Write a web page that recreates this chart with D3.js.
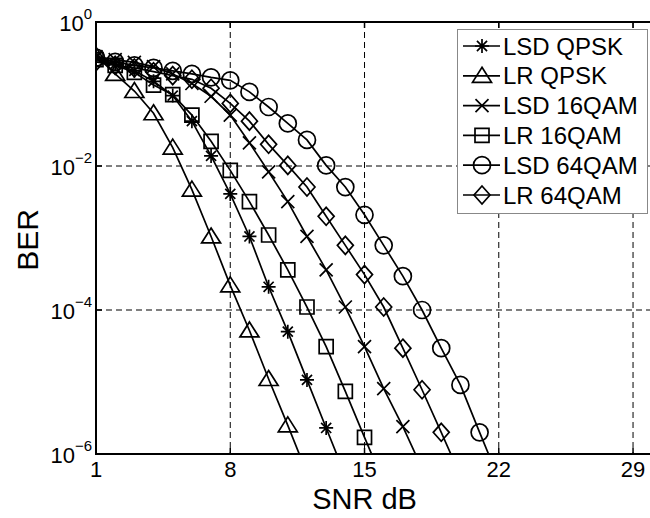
<!DOCTYPE html>
<html>
<head>
<meta charset="utf-8">
<script src="https://cdn.jsdelivr.net/npm/d3@7"></script>
<style>
  body { margin: 0; background: #fff; }
  svg { display: block; font-family: "Liberation Sans", Arial, sans-serif; }
</style>
</head>
<body>
<svg id="chart" width="650" height="518"></svg>
<script>
// BER vs SNR curves, log y axis, MATLAB-style look.

const snr = d3.range(1, 23);

const lsdQpsk = [0.32, 0.26, 0.21, 0.15, 0.095, 0.042, 0.0138, 4.1e-3, 1.05e-3, 2.1e-4, 5.0e-5, 1.07e-5, 2.3e-6, 5e-7];
const lrQpsk = [0.34, 0.19, 0.11, 0.054, 0.018, 4.7e-3, 1.05e-3, 2.2e-4, 5.2e-5, 1.1e-5, 2.5e-6, 5.4e-7];
const lsd16 = [0.33, 0.30, 0.275, 0.24, 0.19, 0.14, 0.093, 0.051, 0.021, 8.3e-3, 3.2e-3, 1.05e-3, 3.6e-4, 1.1e-4, 3.1e-5, 8.1e-6, 2.4e-6, 6.3e-7];
const lr16 = [0.30, 0.25, 0.20, 0.133, 0.098, 0.051, 0.022, 8.7e-3, 3.2e-3, 1.1e-3, 3.6e-4, 1.1e-4, 3.1e-5, 7.4e-6, 1.7e-6, 4e-7];
const lsd64 = [0.32, 0.28, 0.25, 0.23, 0.21, 0.19, 0.17, 0.155, 0.107, 0.066, 0.039, 0.023, 0.0102, 5.1e-3, 2.1e-3, 7.9e-4, 2.95e-4, 1.0e-4, 2.95e-5, 9.1e-6, 2.0e-6, 4.5e-7];
const lr64 = [0.28, 0.25, 0.23, 0.204, 0.18, 0.16, 0.12, 0.074, 0.042, 0.020, 0.0102, 5.1e-3, 2.0e-3, 7.9e-4, 3.1e-4, 1.1e-4, 2.95e-5, 7.8e-6, 2.0e-6, 5e-7];

const seriesNames = ["LSD QPSK", "LR QPSK", "LSD 16QAM", "LR 16QAM", "LSD 64QAM", "LR 64QAM"];
const seriesValues = [lsdQpsk, lrQpsk, lsd16, lr16, lsd64, lr64];
const markers = ["asterisk", "triangle", "x", "square", "circle", "diamond"];

const xTicks = [1, 8, 15, 22, 29];
const yTicks = [1e-6, 1e-4, 1e-2, 1];
const yGrid = [1e-4, 1e-2];

const svg = d3.select("#chart");
const margin = { top: 22, left: 96, bottom: 454 };

const x = d3.scaleLinear().domain([1, 30]).range([margin.left, margin.left + 29 * 19.18]);
const y = d3.scaleLog().domain([1e-6, 1]).range([margin.bottom, margin.top]);

const xRight = 650;

function markerPath(type) {
  const p = d3.path();
  if (type === "asterisk") {
    const r = 7, d = r * 0.72;
    p.moveTo(-r, 0); p.lineTo(r, 0);
    p.moveTo(0, -r); p.lineTo(0, r);
    p.moveTo(-d, -d); p.lineTo(d, d);
    p.moveTo(-d, d); p.lineTo(d, -d);
  } else if (type === "triangle") {
    p.moveTo(0, -8.5); p.lineTo(9.5, 6.5); p.lineTo(-9.5, 6.5); p.closePath();
  } else if (type === "x") {
    const r = 6.5;
    p.moveTo(-r, -r); p.lineTo(r, r);
    p.moveTo(-r, r); p.lineTo(r, -r);
  } else if (type === "square") {
    p.rect(-7, -7, 14, 14);
  } else if (type === "circle") {
    p.moveTo(8.5, 0); p.arc(0, 0, 8.5, 0, 2 * Math.PI);
  } else if (type === "diamond") {
    p.moveTo(0, -9); p.lineTo(8, 0); p.lineTo(0, 9); p.lineTo(-8, 0); p.closePath();
  }
  return p.toString();
}

svg.append("defs").append("clipPath")
  .attr("id", "plot-clip")
  .append("rect")
  .attr("x", margin.left)
  .attr("y", margin.top)
  .attr("width", xRight - margin.left)
  .attr("height", margin.bottom - margin.top);

// grid
const grid = svg.append("g")
  .attr("stroke", "#000")
  .attr("stroke-width", 1)
  .attr("stroke-dasharray", "6,4");

grid.selectAll(".vgrid")
  .data(xTicks.slice(1))
  .join("line")
  .attr("x1", d => x(d)).attr("x2", d => x(d))
  .attr("y1", margin.top).attr("y2", margin.bottom);

grid.selectAll(".hgrid")
  .data(yGrid)
  .join("line")
  .attr("x1", margin.left).attr("x2", xRight)
  .attr("y1", d => y(d)).attr("y2", d => y(d));

// series
const line = d3.line()
  .x((d, i) => x(snr[i]))
  .y(d => y(d));

const plot = svg.append("g").attr("clip-path", "url(#plot-clip)");

seriesValues.forEach((vals, k) => {
  plot.append("path")
    .attr("d", line(vals))
    .attr("fill", "none")
    .attr("stroke", "#000")
    .attr("stroke-width", 1.7);

  plot.selectAll(null)
    .data(vals.filter(v => v >= 1e-6).map((v, i) => ({ v, i })))
    .join("path")
    .attr("transform", d => `translate(${x(snr[d.i])},${y(d.v)})`)
    .attr("d", markerPath(markers[k]))
    .attr("fill", "none")
    .attr("stroke", "#000")
    .attr("stroke-width", 1.7);
});

// axes box (left, bottom, top)
const axis = svg.append("g").attr("stroke", "#000").attr("stroke-width", 2);
axis.append("line").attr("x1", margin.left).attr("x2", margin.left).attr("y1", margin.top - 1).attr("y2", margin.bottom + 1);
axis.append("line").attr("x1", margin.left - 1).attr("x2", xRight).attr("y1", margin.bottom).attr("y2", margin.bottom);
axis.append("line").attr("x1", margin.left - 1).attr("x2", xRight).attr("y1", margin.top).attr("y2", margin.top);

// tick marks inward
const ticks = svg.append("g").attr("stroke", "#000").attr("stroke-width", 1.5);
ticks.selectAll(".xt")
  .data(xTicks)
  .join("line")
  .attr("x1", d => x(d)).attr("x2", d => x(d))
  .attr("y1", margin.bottom).attr("y2", margin.bottom - 6);
ticks.selectAll(".xt2")
  .data(xTicks)
  .join("line")
  .attr("x1", d => x(d)).attr("x2", d => x(d))
  .attr("y1", margin.top).attr("y2", margin.top + 6);
ticks.selectAll(".yt")
  .data(yTicks)
  .join("line")
  .attr("x1", margin.left).attr("x2", margin.left + 6)
  .attr("y1", d => y(d)).attr("y2", d => y(d));

// tick labels
svg.append("g")
  .selectAll("text")
  .data(xTicks)
  .join("text")
  .attr("x", d => x(d))
  .attr("y", 477)
  .attr("text-anchor", "middle")
  .attr("font-size", 22)
  .text(d => d);

const yLab = svg.append("g")
  .selectAll("text")
  .data(yTicks)
  .join("text")
  .attr("x", 92)
  .attr("y", d => y(d) + 9)
  .attr("text-anchor", "end")
  .attr("font-size", 22);
yLab.append("tspan").text("10");
yLab.append("tspan")
  .attr("dy", -12)
  .attr("font-size", 15)
  .text(d => {
    const e = Math.round(Math.log10(d));
    return e < 0 ? "\u2212" + (-e) : String(e);
  });

svg.append("text")
  .attr("x", x(15))
  .attr("y", 509)
  .attr("text-anchor", "middle")
  .attr("font-size", 29)
  .text("SNR dB");

svg.append("text")
  .attr("transform", "translate(38,240) rotate(-90)")
  .attr("text-anchor", "middle")
  .attr("font-size", 30)
  .text("BER");

// legend
const legend = svg.append("g");
legend.append("rect")
  .attr("x", 457.5).attr("y", 29.5)
  .attr("width", 190).attr("height", 184)
  .attr("fill", "#fff")
  .attr("stroke", "#888")
  .attr("stroke-width", 1);

const rowY = d3.scaleLinear().domain([0, 5]).range([46, 195]);
seriesNames.forEach((name, k) => {
  const row = legend.append("g").attr("transform", `translate(0,${rowY(k)})`);
  row.append("line")
    .attr("x1", 463).attr("x2", 500)
    .attr("stroke", "#000").attr("stroke-width", 1.7);
  row.append("path")
    .attr("transform", "translate(482,0)")
    .attr("d", markerPath(markers[k]))
    .attr("fill", "none").attr("stroke", "#000").attr("stroke-width", 1.7);
  row.append("text")
    .attr("x", 503)
    .attr("y", 8.5)
    .attr("font-size", 24)
    .text(name);
});
</script>
</body>
</html>
